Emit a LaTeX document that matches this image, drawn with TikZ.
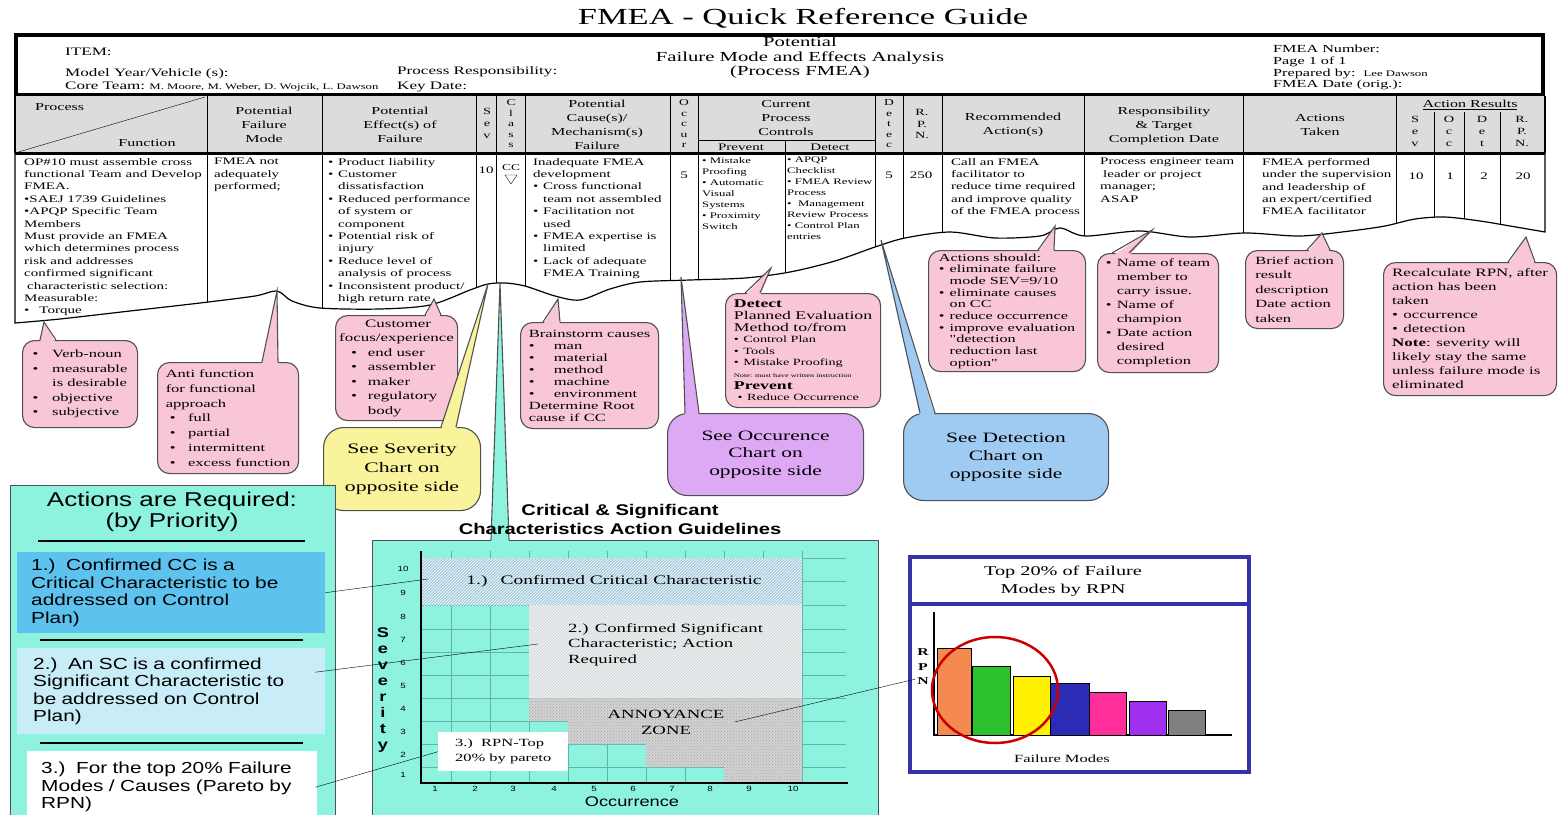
\documentclass[tikz,border=0pt]{standalone}
\usepackage{fontspec}
\setmainfont{Liberation Serif}
\newfontfamily\wserif[FakeStretch=1.5]{Liberation Serif}
\newfontfamily\wsans[FakeStretch=1.3]{Liberation Sans}
\usepackage{tikz}
\usetikzlibrary{positioning,calc,patterns}

\definecolor{headgray}{HTML}{DCDCDC}
\definecolor{pinkfill}{HTML}{F8C6D4}
\definecolor{yellowfill}{HTML}{F9F49C}
\definecolor{lilacfill}{HTML}{DDA9F4}
\definecolor{bluefill}{HTML}{9FCBF3}
\definecolor{aqua}{HTML}{8DF3DF}
\definecolor{skyfill}{HTML}{5EC2EE}
\definecolor{paleblue}{HTML}{C8ECF8}
\definecolor{gridc}{HTML}{5FB5A6}
\definecolor{navy}{HTML}{3434A8}
\definecolor{outl}{HTML}{505050}
\definecolor{zoneone}{HTML}{A8CFE0}
\definecolor{zonetwo}{HTML}{EAF1F2}
\definecolor{zonegray}{HTML}{D2D2D2}
\definecolor{barorange}{HTML}{F58A50}
\definecolor{bargreen}{HTML}{2DC12D}
\definecolor{barblue}{HTML}{2B2BB5}
\definecolor{barpink}{HTML}{FF2E9A}
\definecolor{barpurple}{HTML}{A030F0}

\newcommand\bul[1][1em]{\makebox[#1][l]{\textbullet}}
\newcommand\indt[1][1em]{\hspace*{#1}}
\newcommand\fsz[2]{\fontsize{#1}{#2}\selectfont}
% box, fill, left and right offset of the base, tip
\newcommand\calltip[5]{%
  \fill[#2] ([xshift=#3pt,yshift=-3pt]#1.north west) -- (#5) -- ([xshift=#4pt,yshift=-3pt]#1.north west) -- cycle;
  \draw[bubble line] ([xshift=#3pt]#1.north west) -- (#5) -- ([xshift=#4pt]#1.north west);}

\tikzset{
  label text/.style={inner sep=0pt, anchor=west, font=\wserif\fsz{11.4}{13}},
  cell/.style={inner sep=0pt, anchor=north west, align=left, font=\wserif\fsz{10}{12.4}},
  small cell/.style={cell, font=\wserif\fsz{8.5}{11}},
  num/.style={inner sep=0pt, font=\wserif\fsz{10}{12}},
  head/.style={inner sep=0pt, align=center, font=\wserif\fsz{10.7}{14}},
  letters/.style={inner sep=0pt, align=center, font=\wserif\fsz{9.5}{12}},
  bubble/.style={draw=outl, line width=1.1pt, rounded corners=12pt, anchor=north west, inner sep=3pt, align=left},
  big bubble/.style={bubble, rounded corners=20pt, align=center, font=\wserif\fsz{14.3}{18}},
  bubble line/.style={draw=outl, line width=1.1pt},
  sub box/.style={anchor=north west, align=left, inner ysep=4pt, font=\wsans\fsz{16}{17.5}},
}

\begin{document}
\begin{tikzpicture}[x=1pt,y=-1pt]
\path[use as bounding box, fill=white] (0,0) rectangle (1558,814);

% title and form header
\node[font=\wserif\fsz{23}{26}] (title) at (803,18) {FMEA - Quick Reference Guide};
\draw[line width=4pt] (16,35) rectangle (1543,95);
\node[label text] (item) at (65,52) {ITEM:};
\node[label text] (model) at (65,74) {Model Year/Vehicle (s):};
\node[label text] (team) at (65,87) {Core Team:\ {\fsz{8.5}{9}M. Moore, M. Weber, D. Wojcik, L. Dawson}};
\node[label text] (resp) at (397,72) {Process Responsibility:};
\node[label text] (keyd) at (397,87) {Key Date:};
\node[align=center, inner sep=0pt, font=\wserif\fsz{13.8}{14.5}] (pfmea) at (800,58) {Potential\\Failure Mode and Effects Analysis\\(Process FMEA)};
\node[cell, font=\wserif\fsz{10.8}{11.7}] (fmeano) at (1273,45) {FMEA Number:\\Page 1 of 1\\Prepared by:\ \ {\fsz{8.5}{9}Lee Dawson}\\FMEA Date (orig.):};

% column heads
\fill[headgray] (15,96) rectangle (1545,153);
\draw[line width=1.2pt] (15,96) -- (15,153);
\draw[line width=1.2pt] (1545,96) -- (1545,153);
\draw (15,153) -- (205,97);
\foreach \cx in {207,322,476,496,525,670,698,875,903,942,1084,1243,1396}
  \draw[line width=0.9pt] (\cx,96) -- (\cx,153);
\foreach \cx in {1434,1464,1500}
  \draw[line width=0.9pt] (\cx,112) -- (\cx,153);
\draw (698,140) -- (875,140);
\draw (785,140) -- (785,153);

\node[head, anchor=west] (hproc) at (35,107) {Process};
\node[head] (hfunc) at (147,143) {Function};
\node[head] (hfm) at (264,125) {Potential\\Failure\\Mode};
\node[head] (hef) at (400,125) {Potential\\Effect(s) of\\Failure};
\node[letters] (hsev) at (487,123) {S\\e\\v};
\node[letters, font=\wserif\fsz{9}{10.5}] (hcl) at (511,124) {C\\l\\a\\s\\s};
\node[head] (hcs) at (597,125) {Potential\\Cause(s)/\\Mechanism(s)\\Failure};
\node[letters, font=\wserif\fsz{9}{10.5}] (hoc) at (684,124) {O\\c\\c\\u\\r};
\node[head] (hcpc) at (786,118) {Current\\Process\\Controls};
\node[head, font=\wserif\fsz{10}{12}] (hpv) at (741,147) {Prevent};
\node[head, font=\wserif\fsz{10}{12}] (hdt) at (830,147) {Detect};
\node[letters, font=\wserif\fsz{9}{10.5}] (hde) at (889,124) {D\\e\\t\\e\\c};
\node[letters, font=\wserif\fsz{9.5}{11.5}] (hrpn) at (922,124) {R.\\P.\\N.};
\node[head] (hra) at (1013,125) {Recommended\\Action(s)};
\node[head] (hrs) at (1164,126) {Responsibility\\\& Target\\Completion Date};
\node[head] (hat) at (1320,125) {Actions\\Taken};
\node[head] (har) at (1470,105) {\underline{Action Results}};
\node[letters] (hs2) at (1415,131) {S\\e\\v};
\node[letters] (ho2) at (1449,131) {O\\c\\c};
\node[letters] (hd2) at (1482,131) {D\\e\\t};
\node[letters] (hr2) at (1522,131) {R.\\P.\\N.};

% the example row, torn off at the bottom
\begin{scope}[line width=1.2pt]
\draw[clip] (15,153) -- plot[smooth] coordinates {(15,323) (60,319) (130,311) (200,303) (255,296) (277,291) (292,301) (320,308) (380,309) (430,305) (470,290) (488,284) (505,283) (525,286) (555,296) (580,300) (610,289) (640,282) (690,280) (745,278) (790,272) (835,261) (875,247) (905,238) (950,232) (995,238) (1040,236) (1060,228) (1085,236) (1140,231) (1190,237) (1245,233) (1300,236) (1350,231) (1385,226) (1415,219) (1445,217) (1480,221) (1510,226) (1545,232)} -- (1545,153) -- cycle;
\foreach \cx in {207,322,476,496,525,670,698,785,875,903,942,1084,1243,1396,1434,1464,1500}
  \draw[line width=0.9pt] (\cx,153) -- (\cx,330);
\end{scope}
\draw[line width=3pt] (15,153) -- (1545,153);

\node[cell] (fn) at (24,158) {OP\#10 must assemble cross\\functional Team and Develop\\FMEA.\\\textbullet SAEJ 1739 Guidelines\\\textbullet APQP Specific Team\\Members\\Must provide an FMEA\\which determines process\\risk and addresses\\confirmed significant\\\hspace*{3pt}characteristic selection:\\Measurable:\\\textbullet\hspace{1em}Torque};
\node[cell] (fm) at (214,158) {FMEA not\\adequately\\performed;};
\node[cell] (ef) at (328,158) {\bul Product liability\\\bul Customer\\\indt dissatisfaction\\\bul Reduced performance\\\indt of system or\\\indt component\\\bul Potential risk of\\\indt injury\\\bul Reduce level of\\\indt analysis of process\\\bul Inconsistent product/\\\indt high return rate};
\node[num] (sv) at (486,170) {10};
\node[num, font=\wserif\fsz{9}{10}] (cl) at (511,168) {CC};
\draw (505,175) -- (517,175) -- (511,184) -- cycle;
\node[cell] (cs) at (533,158) {Inadequate FMEA\\development\\\bul Cross functional\\\indt team not assembled\\\bul Facilitation not\\\indt used\\\bul FMEA expertise is\\\indt limited\\\bul Lack of adequate\\\indt FMEA Training};
\node[num] (oc) at (684,175) {5};
\node[small cell] (pv) at (702,157) {\textbullet\ Mistake\\Proofing\\\textbullet\ Automatic\\Visual\\Systems\\\textbullet\ Proximity\\Switch};
\node[small cell] (dc) at (787,157) {\textbullet\ APQP\\Checklist\\\textbullet\ FMEA Review\\Process\\\textbullet\ \ Management\\Review Process\\\textbullet\ Control Plan\\entries};
\node[num] (de) at (889,175) {5};
\node[num] (rp) at (921,175) {250};
\node[cell] (ra) at (951,158) {Call an FMEA\\facilitator to\\reduce time required\\and improve quality\\of the FMEA process};
\node[cell] (rs) at (1100,158) {Process engineer team\\\hspace*{3pt}leader or project\\manager;\\ASAP};
\node[cell] (at) at (1262,158) {FMEA performed\\under the supervision\\and leadership of\\an expert/certified\\FMEA facilitator};
\node[num] (rsv) at (1416,176) {10};
\node[num] (ro) at (1450,176) {1};
\node[num] (rd) at (1484,176) {2};
\node[num] (rrpn) at (1523,176) {20};

% callouts
\node[bubble, fill=pinkfill, minimum width=115pt, minimum height=87pt, font=\wserif\fsz{11}{14.5}] (vnb) at (22,340) {\bul[1.4em] Verb-noun\\\bul[1.4em] measurable\\\indt[1.4em] is desirable\\\bul[1.4em] objective\\\bul[1.4em] subjective};
\coordinate (vnt) at (44,322);
\calltip{vnb}{pinkfill}{18}{34}{vnt}

\node[bubble, fill=pinkfill, minimum width=141pt, minimum height=111pt, font=\wserif\fsz{11}{14.8}] (afb) at (157,362) {Anti function\\for functional\\approach\\\indt[4pt]\bul[1.3em] full\\\indt[4pt]\bul[1.3em] partial\\\indt[4pt]\bul[1.3em] intermittent\\\indt[4pt]\bul[1.3em] excess function};
\coordinate (aft) at (277,291);
\calltip{afb}{pinkfill}{105}{121}{aft}

\node[bubble, fill=pinkfill, inner xsep=1pt, minimum width=122pt, minimum height=105pt, font=\wserif\fsz{11.3}{14.5}] (cub) at (335,315) {\hspace*{26pt}Customer\\focus/experience\\\indt[12pt]\bul[1.1em] end user\\\indt[12pt]\bul[1.1em] assembler\\\indt[12pt]\bul[1.1em] maker\\\indt[12pt]\bul[1.1em] regulatory\\\indt[12pt]\indt[1.1em] body};
\coordinate (cut) at (434,299);
\calltip{cub}{pinkfill}{90}{106}{cut}

\node[big bubble, fill=yellowfill, minimum width=157pt, minimum height=83pt, font=\wserif\fsz{14.5}{19}] (sevb) at (323,427) {See Severity\\Chart on\\opposite side};
\coordinate (sevt) at (488,284);
\calltip{sevb}{yellowfill}{118}{133}{sevt}

\node[bubble, fill=pinkfill, minimum width=138pt, minimum height=106pt, font=\wserif\fsz{11}{12}] (bsb) at (520,322) {Brainstorm causes\\\bul[1.9em] man\\\bul[1.9em] material\\\bul[1.9em] method\\\bul[1.9em] machine\\\bul[1.9em] environment\\Determine Root\\cause if CC};
\coordinate (bst) at (558,299);
\calltip{bsb}{pinkfill}{23}{40}{bst}

\node[bubble, fill=pinkfill, minimum width=155pt, minimum height=114pt, font=\wserif\fsz{11.8}{11.6}] (dtb) at (725,293) {\textbf{Detect}\\Planned Evaluation\\Method to/from\\{\fsz{9.5}{11}\bul Control Plan}\\{\fsz{9.5}{11}\bul Tools}\\{\fsz{9.5}{11}\bul Mistake Proofing}\\{\fsz{5.5}{6}Note: must have written instruction}\\\textbf{Prevent}\\{\fsz{9.5}{11}\ \bul Reduce Occurrence}};
\coordinate (dtt) at (771,268);
\calltip{dtb}{pinkfill}{20}{35}{dtt}

\node[big bubble, fill=lilacfill, minimum width=196pt, minimum height=82pt, font=\wserif\fsz{14.3}{17.5}] (occb) at (667,413) {See Occurence\\Chart on\\opposite side};
\coordinate (occt) at (681,277);
\calltip{occb}{lilacfill}{18}{32}{occt}

\node[big bubble, fill=bluefill, minimum width=205pt, minimum height=87pt] (detb) at (903,413) {See Detection\\Chart on\\opposite side};
\coordinate (dett) at (881,240);
\calltip{detb}{bluefill}{17}{32}{dett}

\node[bubble, fill=pinkfill, minimum width=157pt, minimum height=120pt, font=\wserif\fsz{10.8}{11.7}] (actb) at (928,250) {Actions should:\\\bul eliminate failure\\\indt mode SEV=9/10\\\bul eliminate causes\\\indt on CC\\\bul reduce occurrence\\\bul improve evaluation\\\indt "detection\\\indt reduction last\\\indt option"};
\coordinate (actt) at (1055,226);
\calltip{actb}{pinkfill}{110}{126}{actt}

\node[bubble, fill=pinkfill, minimum width=121pt, minimum height=119pt, font=\wserif\fsz{11}{14}] (ntb) at (1097,253) {\bul Name of team\\\indt member to\\\indt carry issue.\\\bul Name of\\\indt champion\\\bul Date action\\\indt desired\\\indt completion};
\coordinate (ntt) at (1152,230);
\calltip{ntb}{pinkfill}{15}{32}{ntt}

\node[bubble, fill=pinkfill, minimum width=98pt, minimum height=78pt, font=\wserif\fsz{11}{14.5}] (bab) at (1245,250) {Brief action\\result\\description\\Date action\\taken};
\coordinate (bat) at (1322,233);
\calltip{bab}{pinkfill}{62}{85}{bat}

\node[bubble, fill=pinkfill, minimum width=173pt, minimum height=133pt, font=\wserif\fsz{11.3}{14}] (rcb) at (1383,262) {Recalculate RPN, after\\action has been\\taken\\\bul occurrence\\\bul detection\\\textbf{Note}: severity will\\likely stay the same\\unless failure mode is\\eliminated};
\coordinate (rct) at (1526,237);
\calltip{rcb}{pinkfill}{125}{152}{rct}

% priorities panel
\node[draw=outl, line width=1pt, fill=aqua, minimum width=325pt, minimum height=340pt, anchor=north west, inner sep=0pt] (arq) at (10,485) {};
\node[align=center, inner sep=0pt, font=\wsans\fsz{20}{21}] (arqt) at (172,512) {Actions are Required:\\(by Priority)};
\draw[line width=1.2pt] (38,541) -- (305,541);
\node[sub box, fill=skyfill, text width=280pt, inner xsep=14pt, minimum height=81pt] (s1) at (17,552) {1.)\ \ Confirmed CC is a\\Critical Characteristic to be\\addressed on Control\\Plan)};
\draw[line width=1.2pt] (40,640) -- (303,640);
\node[sub box, fill=paleblue, text width=276pt, inner xsep=16pt, minimum height=86pt] (s2) at (17,648) {2.)\ \ An SC is a confirmed\\Significant Characteristic to\\be addressed on Control\\Plan)};
\draw[line width=1.2pt] (40,743) -- (303,743);
\node[sub box, fill=white, text width=262pt, inner xsep=14pt, minimum height=72pt] (s3) at (27,751) {3.)\ \ For the top 20\% Failure\\Modes / Causes (Pareto by\\RPN)};

% severity x occurrence chart
\node[draw=outl, line width=1pt, fill=aqua, minimum width=506pt, minimum height=290pt, anchor=north west, inner sep=0pt] (csb) at (372,540) {};
\coordinate (cct) at (500,283);
\calltip{csb}{aqua}{119}{137}{cct}
\node[align=center, inner sep=0pt, font=\wsans\bfseries\fsz{15.5}{19}] (cst) at (620,519) {Critical \& Significant\\Characteristics Action Guidelines};
\foreach \gx in {451.5,490,529,568,607,646,685,724,763,802}
  \draw[gridc] (\gx,551) -- (\gx,783);
\foreach \gy in {558,581,605,629,652,675,698,721,744,767}
  \draw[gridc] (421,\gy) -- (846,\gy);
\fill[zoneone] (421,558) rectangle (802,605);
\fill[pattern=north east lines, pattern color=white] (421,558) rectangle (802,605);
\fill[zonetwo] (529,605) rectangle (802,698);
\fill[pattern=north east lines, pattern color=gray!35] (529,605) rectangle (802,698);
\fill[zonegray] (529,698) -- (802,698) -- (802,783) -- (724,783) -- (724,767) -- (646,767) -- (646,744) -- (568,744) -- (568,721) -- (529,721) -- cycle;
\fill[pattern=crosshatch dots, pattern color=gray!70] (529,698) -- (802,698) -- (802,783) -- (724,783) -- (724,767) -- (646,767) -- (646,744) -- (568,744) -- (568,721) -- (529,721) -- cycle;
\draw[line width=1.3pt] (421,551) -- (421,783) -- (848,783);
\foreach \k/\sy in {10/569,9/593,8/617,7/640,6/663,5/686,4/709,3/732,2/755,1/775}
  \node[font=\wsans\fsz{7.5}{8}] (sn\k) at (403,\sy) {\k};
\foreach \k/\sx in {1/435,2/475,3/513,4/554,5/594,6/633,7/672,8/710,9/749,10/793}
  \node[font=\wsans\fsz{7.5}{8}] (on\k) at (\sx,789) {\k};
\node[align=center, inner sep=0pt, font=\wsans\bfseries\fsz{14}{15.9}] (sevl) at (383,690) {S\\e\\v\\e\\r\\i\\t\\y};
\node[inner sep=0pt, font=\wsans\fsz{14}{15}] (occl) at (632,802) {Occurrence};
\node[inner sep=0pt, font=\wserif\fsz{13}{15}] (rg1) at (614,581) {1.)\quad Confirmed Critical Characteristic};
\node[inner sep=0pt, anchor=north west, align=left, font=\wserif\fsz{12.5}{15.5}] (rg2) at (568,623) {2.) Confirmed Significant\\Characteristic; Action\\Required};
\node[inner sep=0pt, align=center, font=\wserif\fsz{12.5}{16}] (ann) at (666,722) {ANNOYANCE\\ZONE};
\node[fill=white, minimum width=130pt, minimum height=39pt, anchor=north west, inner sep=0pt, align=left, font=\wserif\fsz{11}{15}] (rg3) at (438,732) {3.)\ \ RPN-Top\\20\% by pareto};

\coordinate (r1p) at (428,579);
\coordinate (r2p) at (538,644);
\draw (s1.east) -- (r1p);
\draw ($(s2.east)+(-10,-19)$) -- (r2p);
\draw ($(s3.east)+(-2,0)$) -- (rg3.west);

% pareto panel
\node[draw=navy, line width=4pt, fill=white, minimum width=339pt, minimum height=215pt, anchor=north west, inner sep=0pt] (tpb) at (908,555) {};
\draw[navy, line width=4pt] (908,604) -- (1247,604);
\node[align=center, inner sep=0pt, font=\wserif\fsz{13.5}{18}] (tpt) at (1063,581) {Top 20\% of Failure\\Modes by RPN};
\draw[line width=1.3pt] (934,612) -- (934,735) -- (1232,735);
\foreach \xa/\xb/\yt/\bc in {937/971/648/barorange,972/1010/666/bargreen,1013/1050/676/yellow,1050/1089/683/barblue,1089/1126/692/barpink,1129/1166/701/barpurple,1168/1205/710/gray}
  \filldraw[fill=\bc, line width=1pt] (\xa,\yt) rectangle (\xb,735);
\draw[red!80!black, line width=2.5pt] (995,690) ellipse [x radius=63pt, y radius=53pt];
\node[align=center, inner sep=0pt, font=\wserif\bfseries\fsz{10.5}{14.5}] (rpnl) at (923,667) {R\\P\\N};
\node[inner sep=0pt, font=\wserif\fsz{11}{12}] (fml) at (1062,759) {Failure Modes};
\draw ($(ann.east)+(10,0)$) -- ($(rpnl.south west)+(-2,-6)$);
\end{tikzpicture}
\end{document}
